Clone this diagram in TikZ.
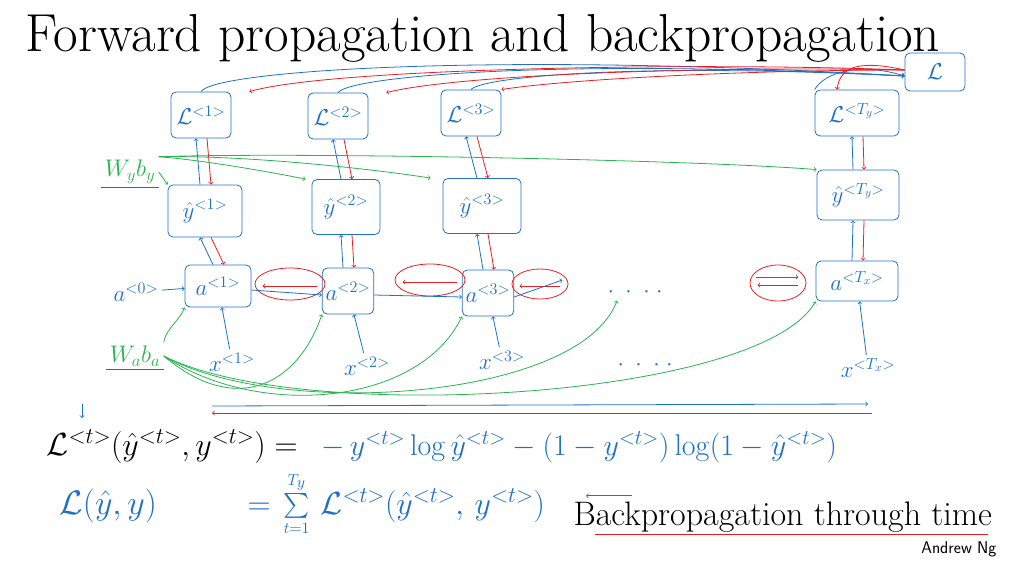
\RequirePackage{fix-cm}
\documentclass[tikz,border=0pt]{standalone}
\usepackage{amsmath}
\usetikzlibrary{shapes.geometric}
\definecolor{fwdblue}{RGB}{30,112,200}
\definecolor{bwdred}{RGB}{235,30,35}
\definecolor{pargreen}{RGB}{40,180,80}
\begin{document}
\begin{tikzpicture}[x=1pt,y=-1pt,
  cell/.style={draw=fwdblue, thick, rounded corners=5pt, text=fwdblue, minimum width=60pt, minimum height=46pt, font=\fontsize{23}{25}\selectfont},
  lbl/.style={text=fwdblue, font=\fontsize{23}{25}\selectfont},
  loop/.style={draw=bwdred, thick, ellipse, minimum width=70pt, minimum height=32pt},
  eqn/.style={anchor=base west, text=fwdblue, font=\fontsize{32}{34}\selectfont},
  fw/.style={draw=fwdblue, thick, ->},
  bw/.style={draw=bwdred, thick, ->},
  pw/.style={draw=pargreen, thick, ->}]
\useasboundingbox (0,0) rectangle (1024,561);
\node[anchor=base west, font=\fontsize{53.5}{56}\selectfont] (title) at (22,52) {Forward propagation and backpropagation};
% losses
\node[cell] (l1) at (201,115) {$\mathcal{L}^{<1>}$};
\node[cell] (l2) at (338,116) {$\mathcal{L}^{<2>}$};
\node[cell] (l3) at (471,113) {$\mathcal{L}^{<3>}$};
\node[cell, minimum width=84pt] (lT) at (857,113) {$\mathcal{L}^{<T_y>}$};
\node[cell, minimum height=38pt] (lt) at (935,72) {$\mathcal{L}$};
% outputs
\node[cell, minimum width=74pt, minimum height=52pt] (y1) at (205,211) {$\hat{y}^{<1>}$};
\node[cell, minimum width=68pt, minimum height=55pt] (y2) at (346,207) {$\hat{y}^{<2>}$};
\node[cell, minimum width=78pt, minimum height=55pt] (y3) at (482,206) {$\hat{y}^{<3>}$};
\node[cell, minimum width=82pt, minimum height=50pt] (yT) at (858,195) {$\hat{y}^{<T_y>}$};
% activations
\node[cell, minimum width=66pt, minimum height=42pt] (a1) at (218,286) {$a^{<1>}$};
\node[cell, minimum width=50pt, minimum height=46pt] (a2) at (348,291) {$a^{<2>}$};
\node[cell, minimum width=50pt, minimum height=46pt] (a3) at (488,293) {$a^{<3>}$};
\node[cell, minimum width=82pt, minimum height=40pt] (aT) at (857,281) {$a^{<T_x>}$};
\node[lbl] (a0) at (136,292) {$a^{<0>}$};
\node[lbl] (dots) at (635,292) {$\cdot\;\cdot\;\cdot\;\cdot$};
% inputs
\node[lbl] (x1) at (232,362) {$x^{<1>}$};
\node[lbl] (x2) at (367,366) {$x^{<2>}$};
\node[lbl] (x3) at (502,360) {$x^{<3>}$};
\node[lbl] (xdots) at (645,365) {$\cdot\;\cdot\;\cdot\;\cdot$};
\node[lbl] (xT) at (868,368) {$x^{<T_x>}$};
% parameters
\node[text=pargreen, font=\fontsize{24}{26}\selectfont] (wy) at (130,172) {$W_y b_y$};
\node[text=pargreen, font=\fontsize{24}{26}\selectfont] (wa) at (135,356) {$W_a b_a$};
\draw[bwdred, thick] (wy.south west) -- (wy.south east);
\draw[bwdred, thick] (wa.south west) -- (wa.south east);
% red loops between activations
\node[loop] (e1) at (290,284) {};
\node[loop] (e2) at (430,280) {};
\node[loop, minimum width=56pt, minimum height=30pt] (e3) at (540,284) {};
\node[loop, minimum width=56pt, minimum height=36pt] (e4) at (778,283) {};
\foreach \e in {e1,e2,e3,e4}
  \draw[bw] ([xshift=-8pt,yshift=-2pt]\e.east) -- ([xshift=8pt,yshift=-2pt]\e.west);
% forward and backward along time
\draw[fw] (a0) -- (a1);
\draw[fw] ([yshift=-4pt]a1.east) -- ([yshift=-4pt]a2.west);
\draw[fw] ([yshift=-4pt]a2.east) -- ([yshift=-4pt]a3.west);
\draw[fw] ([yshift=-4pt]a3.east) -- ([xshift=-6pt,yshift=4pt]e3.east);
\draw[fw] ([xshift=6pt,yshift=6pt]e4.west) -- ([xshift=-8pt,yshift=6pt]e4.east);
\foreach \i in {1,2,3,T} {
  \draw[fw] (x\i) -- (a\i);
  \draw[fw] ([xshift=-5pt]a\i.north) -- ([xshift=-5pt]y\i.south);
  \draw[bw] ([xshift=6pt]y\i.south) -- ([xshift=6pt]a\i.north);
  \draw[fw] ([xshift=-5pt]y\i.north) -- ([xshift=-5pt]l\i.south);
  \draw[bw] ([xshift=6pt]l\i.south) -- ([xshift=6pt]y\i.north);
}
% losses to total loss
\draw[fw] (l1.north) .. controls (215,70) and (500,52) .. ([yshift=-4pt]lt.west);
\draw[fw] (l2.north) .. controls (350,76) and (560,58) .. ([yshift=-4pt]lt.west);
\draw[fw] (l3.north) .. controls (480,78) and (620,62) .. ([yshift=-4pt]lt.west);
\draw[fw] (lT.north west) .. controls (825,72) and (860,62) .. ([yshift=-4pt]lt.west);
\draw[bw] ([yshift=2pt]lt.west) .. controls (700,62) and (330,68) .. ([xshift=18pt]l1.north east);
\draw[bw] ([yshift=2pt]lt.west) .. controls (720,66) and (460,74) .. ([xshift=18pt]l2.north east);
\draw[bw] ([yshift=2pt]lt.west) .. controls (740,70) and (560,80) .. (l3.north east);
\draw[bw] ([yshift=2pt]lt.west) .. controls (860,60) and (840,66) .. ([xshift=-20pt]lT.north);
% output parameters
\draw[pw] (wy.east) -- (y1.north west);
\draw[pw] (wy.north east) .. controls (200,160) and (260,170) .. ([xshift=-6pt]y2.north west);
\draw[pw] (wy.north east) .. controls (250,155) and (380,170) .. ([xshift=-12pt]y3.north west);
\draw[pw] (wy.north east) .. controls (300,152) and (700,160) .. (yT.north west);
% activation parameters
\draw[pw] (wa.north east) .. controls (165,330) and (180,320) .. (a1.south west);
\draw[pw] (wa.east) .. controls (240,420) and (300,380) .. (a2.south west);
\draw[pw] (wa.east) .. controls (260,420) and (420,405) .. (a3.south west);
\draw[pw] (wa.east) .. controls (280,420) and (580,400) .. ([xshift=-18pt]dots.south);
\draw[pw] (wa.east) .. controls (300,425) and (760,400) .. (aT.south west);
% time axis
\coordinate (t0) at (212,406);
\coordinate (t1) at (868,404);
\coordinate (t2) at (872,413);
\coordinate (t3) at (212,413);
\draw[fw] (t0) -- (t1);
\draw[bw] (t2) -- (t3);
% loss formulas
\node[eqn, text=black] (lossdef) at (43,455) {$\mathcal{L}^{<t>}(\hat{y}^{<t>},y^{<t>}) =$};
\node[eqn, font=\fontsize{30}{32}\selectfont] (lossce) at (318,455) {$-\,y^{<t>}\log\hat{y}^{<t>}-(1-y^{<t>})\log(1-\hat{y}^{<t>})$};
\coordinate (mark) at (82,404);
\coordinate (markend) at (82,418);
\draw[fw] (mark) -- (markend);
\node[eqn, font=\fontsize{34}{36}\selectfont] (lossl) at (56,514) {$\mathcal{L}(\hat{y},y)$};
\node[eqn] (losseq) at (244,514) {$=$};
\node[eqn] (losssum) at (280,514) {$\sum\limits_{\scriptscriptstyle t=1}^{\scriptscriptstyle T_y}\,\mathcal{L}^{<t>}(\hat{y}^{<t>},\,y^{<t>})$};
\node[anchor=base west, font=\fontsize{34}{36}\selectfont] (bptt) at (570,525) {Backpropagation through time};
\draw[bwdred, thick] ([xshift=25pt,yshift=1pt]bptt.south west) -- ([xshift=-8pt,yshift=1pt]bptt.south east);
\draw[fw] ([xshift=62pt,yshift=2pt]bptt.north west) -- ([xshift=16pt,yshift=2pt]bptt.north west);
\node[anchor=base east, font=\sffamily\fontsize{17}{19}\selectfont] (author) at (1000,553) {Andrew Ng};
\end{tikzpicture}
\end{document}
